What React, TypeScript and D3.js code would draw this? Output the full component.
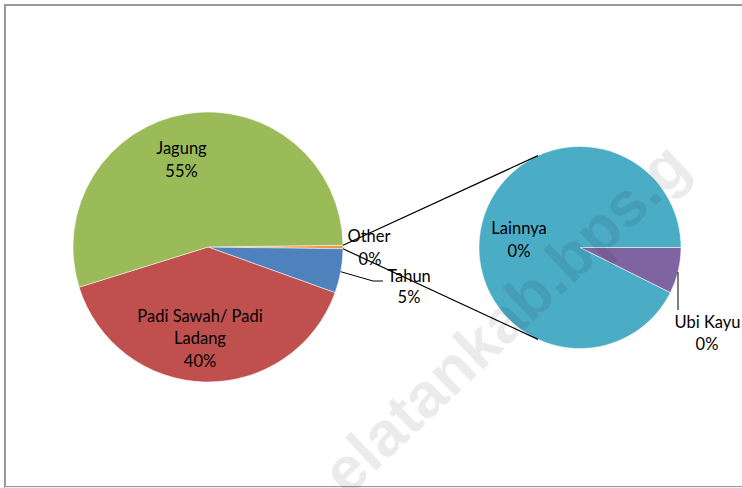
import React from "react";
import * as d3 from "d3";

// Main pie data (percent of total)
const mainCategories = ["Other", "Tahun", "Padi Sawah/ Padi Ladang", "Jagung"];
const mainValues = [0.42, 5.28, 39.7, 54.6];
const mainColors = ["#F79646", "#4F81BD", "#C0504D", "#9BBB59"];

// Secondary pie: breakdown of "Other"
const subCategories = ["Ubi Kayu", "Lainnya"];
const subValues = [0.031, 0.389];
const subColors = ["#8064A2", "#4BACC6"];

const W = 742;
const H = 488;
const FONT = "Lato, 'Open Sans', sans-serif";

const pct = (v: number, total: number) => `${Math.round((v / total) * 100)}%`;

export default function App() {
  const mainTotal = d3.sum(mainValues);
  const subTotal = mainTotal; // percentages of whole

  const mcx = 208, mcy = 247, mr = 135;
  const scx = 580, scy = 247.5, sr = 101;

  const otherAngle = (mainValues[0] / mainTotal) * 2 * Math.PI;
  const mainStart = Math.PI / 2 - otherAngle / 2;
  const mainPie = d3
    .pie<number>()
    .sort(null)
    .value((d) => d)
    .startAngle(mainStart)
    .endAngle(mainStart + 2 * Math.PI);
  const mainArcs = mainPie(mainValues);

  const subPie = d3
    .pie<number>()
    .sort(null)
    .value((d) => d)
    .startAngle(Math.PI / 2)
    .endAngle(Math.PI / 2 + 2 * Math.PI);
  const subArcs = subPie(subValues);

  const mainArc = d3.arc<d3.PieArcDatum<number>>().innerRadius(0).outerRadius(mr);
  const subArc = d3.arc<d3.PieArcDatum<number>>().innerRadius(0).outerRadius(sr);

  const pt = (cx: number, cy: number, r: number, a: number) => [
    cx + r * Math.sin(a),
    cy - r * Math.cos(a),
  ];

  const otherArc = mainArcs[0];
  const [ux1, uy1] = pt(mcx, mcy, mr, otherArc.startAngle);
  const [lx1, ly1] = pt(mcx, mcy, mr, otherArc.endAngle);
  const connA = (24.6 * Math.PI) / 180;
  const [ux2, uy2] = pt(scx, scy, sr, -connA);
  const [lx2, ly2] = pt(scx, scy, sr, Math.PI + connA);

  const textStyle: React.CSSProperties = {
    fontFamily: FONT,
    fontSize: 16.5,
    fill: "#000",
  };

  return (
    <svg
      width={W}
      height={H}
      style={{ position: "absolute", left: 0, top: 0, background: "#fff" }}
    >
      <rect x={0} y={0} width={W} height={H} fill="#fff" />
      <rect x={5} y={5} width={W + 20} height={482} fill="none" stroke="#9a9a9a" strokeWidth={2} />
      <line x1={5} y1={487.5} x2={W} y2={487.5} stroke="#eeeeee" strokeWidth={1} />

      <g transform={`translate(${mcx},${mcy})`}>
        {mainArcs.map((a, i) => (
          <path key={i} d={mainArc(a) || ""} fill={mainColors[i]} stroke="#fff" strokeWidth={0.5} />
        ))}
      </g>
      <g transform={`translate(${scx},${scy})`}>
        {subArcs.map((a, i) => (
          <path key={i} d={subArc(a) || ""} fill={subColors[i]} stroke="#fff" strokeWidth={0.5} />
        ))}
      </g>

      {/* connector lines */}
      <line x1={ux1} y1={uy1} x2={ux2} y2={uy2} stroke="#000" strokeWidth={1.2} />
      <line x1={lx1} y1={ly1} x2={lx2} y2={ly2} stroke="#000" strokeWidth={1.2} />

      {/* leader lines */}
      <polyline points="340.7,271.7 373,281 383,281" fill="none" stroke="#000" strokeWidth={1} />
      <line x1={678} y1={272} x2={678} y2={310} stroke="#000" strokeWidth={1} />

      {/* labels */}
      <g style={textStyle} textAnchor="middle">
        <text x={181.5} y={153.5}>{mainCategories[3]}</text>
        <text x={181.5} y={176.7}>{pct(mainValues[3], mainTotal)}</text>

        <text x={200} y={321.7}>Padi Sawah/ Padi</text>
        <text x={200} y={344}>Ladang</text>
        <text x={200} y={366.7}>{pct(mainValues[2], mainTotal)}</text>

        <text x={369} y={241.7}>{mainCategories[0]}</text>
        <text x={370} y={265}>{pct(mainValues[0], mainTotal)}</text>

        <text x={409} y={281.7}>{mainCategories[1]}</text>
        <text x={409} y={303.3}>{pct(mainValues[1], mainTotal)}</text>

        <text x={519} y={234}>{subCategories[1]}</text>
        <text x={519} y={256.7}>{pct(subValues[1], subTotal)}</text>

        <text x={707.5} y={328.3}>{subCategories[0]}</text>
        <text x={707} y={350}>{pct(subValues[0], subTotal)}</text>
      </g>

      {/* watermark */}
      <text
        x={693}
        y={170}
        textAnchor="end"
        transform="rotate(-43.5 693 170)"
        style={{
          fontFamily: "'Liberation Sans', Arial, sans-serif",
          fontWeight: 700,
          fontSize: 63,
          fill: "#000",
          fillOpacity: 0.08,
        }}
      >
        elatankab.bps.g
      </text>
    </svg>
  );
}
